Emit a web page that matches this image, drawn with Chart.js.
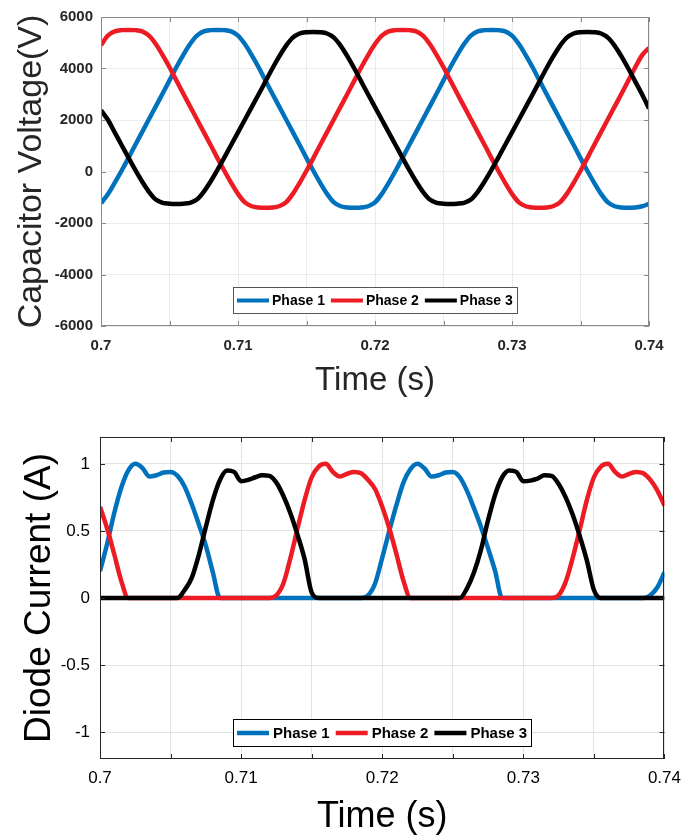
<!DOCTYPE html>
<html>
<head>
<meta charset="utf-8">
<script src="https://cdn.jsdelivr.net/npm/chart.js@4.4.1/dist/chart.umd.min.js"></script>
<style>
  html, body { margin: 0; padding: 0; background: #fff; }
  body { width: 690px; height: 836px; overflow: hidden; }
  .caixa { position: relative; width: 690px; }
  #cima { height: 410px; }
  #baixo { height: 426px; }
</style>
</head>
<body>
<div class="caixa" id="cima"><canvas id="graficoTensao"></canvas></div>
<div class="caixa" id="baixo"><canvas id="graficoCorrente"></canvas></div>
<script>
// Tempo (s) - amostras lidas a cada 0.5 ms
const tempo = [
  0.7, 0.7005, 0.701, 0.7015, 0.702, 0.7025, 0.703, 0.7035, 0.704, 0.7045,
  0.705, 0.7055, 0.706, 0.7065, 0.707, 0.7075, 0.708, 0.7085, 0.709, 0.7095,
  0.71, 0.7105, 0.711, 0.7115, 0.712, 0.7125, 0.713, 0.7135, 0.714, 0.7145,
  0.715, 0.7155, 0.716, 0.7165, 0.717, 0.7175, 0.718, 0.7185, 0.719, 0.7195,
  0.72, 0.7205, 0.721, 0.7215, 0.722, 0.7225, 0.723, 0.7235, 0.724, 0.7245,
  0.725, 0.7255, 0.726, 0.7265, 0.727, 0.7275, 0.728, 0.7285, 0.729, 0.7295,
  0.73, 0.7305, 0.731, 0.7315, 0.732, 0.7325, 0.733, 0.7335, 0.734, 0.7345,
  0.735, 0.7355, 0.736, 0.7365, 0.737, 0.7375, 0.738, 0.7385, 0.739, 0.7395,
  0.74
];

const fases = ["Phase 1", "Phase 2", "Phase 3"];
const cores = ["#0072BD", "#ED1C24", "#000000"];

// Tensao no capacitor (V)
const tensaoFase1 = [
  -1230, -880, -440, 30, 520, 1030, 1530, 2030, 2530, 3030,
  3540, 4050, 4520, 4950, 5280, 5440, 5490, 5500, 5490, 5440,
  5280, 4950, 4520, 4050, 3540, 3030, 2530, 2030, 1530, 1030,
  520, 30, -440, -870, -1200, -1350, -1400, -1410, -1400, -1350,
  -1200, -870, -440, 30, 520, 1030, 1530, 2030, 2530, 3030,
  3540, 4050, 4520, 4950, 5280, 5440, 5490, 5500, 5490, 5440,
  5280, 4950, 4520, 4050, 3540, 3030, 2530, 2030, 1530, 1030,
  520, 30, -440, -870, -1200, -1350, -1400, -1410, -1400, -1350,
  -1260
];
const tensaoFase2 = [
  4900, 5280, 5440, 5490, 5500, 5490, 5440, 5280, 4950, 4520,
  4050, 3540, 3030, 2530, 2030, 1530, 1030, 520, 30, -440,
  -870, -1200, -1350, -1400, -1410, -1400, -1350, -1200, -870, -440,
  30, 520, 1030, 1530, 2030, 2530, 3030, 3540, 4050, 4520,
  4950, 5280, 5440, 5490, 5500, 5490, 5440, 5280, 4950, 4520,
  4050, 3540, 3030, 2530, 2030, 1530, 1030, 520, 30, -440,
  -870, -1200, -1350, -1400, -1410, -1400, -1350, -1200, -870, -440,
  30, 520, 1030, 1530, 2030, 2530, 3030, 3540, 4050, 4520,
  4800
];
const tensaoFase3 = [
  2380, 2010, 1520, 1030, 540, 60, -390, -790, -1090, -1220,
  -1250, -1260, -1250, -1220, -1090, -790, -390, 60, 540, 1030,
  1520, 2010, 2500, 2990, 3490, 3990, 4460, 4880, 5200, 5360,
  5410, 5420, 5410, 5360, 5200, 4880, 4460, 3990, 3490, 2990,
  2500, 2010, 1520, 1030, 540, 60, -390, -790, -1090, -1220,
  -1250, -1260, -1250, -1220, -1090, -790, -390, 60, 540, 1030,
  1520, 2010, 2500, 2990, 3490, 3990, 4460, 4880, 5200, 5360,
  5410, 5420, 5410, 5360, 5200, 4880, 4460, 3990, 3490, 2990,
  2450
];

// Corrente nos diodos (A)
const correnteFase1 = [
  0.20, 0.40, 0.63, 0.82, 0.95, 1.00, 0.97, 0.905, 0.915, 0.935,
  0.94, 0.91, 0.83, 0.70, 0.55, 0.39, 0.19, 0, 0, 0,
  0, 0, 0, 0, 0, 0, 0, 0, 0, 0,
  0, 0, 0, 0, 0, 0, 0, 0, 0.02, 0.11,
  0.30, 0.50, 0.69, 0.86, 0.96, 1.00, 0.965, 0.905, 0.915, 0.935,
  0.94, 0.90, 0.80, 0.67, 0.53, 0.37, 0.20, 0, 0, 0,
  0, 0, 0, 0, 0, 0, 0, 0, 0, 0,
  0, 0, 0, 0, 0, 0, 0, 0, 0.02, 0.08,
  0.19
];
const correnteFase2 = [
  0.68, 0.52, 0.33, 0.13, 0, 0, 0, 0, 0, 0,
  0, 0, 0, 0, 0, 0, 0, 0, 0, 0,
  0, 0, 0, 0, 0, 0.02, 0.11, 0.30, 0.52, 0.73,
  0.90, 0.98, 1.00, 0.94, 0.905, 0.925, 0.94, 0.93, 0.88, 0.81,
  0.68, 0.52, 0.33, 0.13, 0, 0, 0, 0, 0, 0,
  0, 0, 0, 0, 0, 0, 0, 0, 0, 0,
  0, 0, 0, 0, 0, 0.02, 0.12, 0.30, 0.51, 0.73,
  0.90, 0.98, 1.00, 0.94, 0.905, 0.925, 0.94, 0.93, 0.88, 0.80,
  0.69
];
const correnteFase3 = [
  0, 0, 0, 0, 0, 0, 0, 0, 0, 0,
  0, 0, 0.06, 0.15, 0.32, 0.53, 0.73, 0.88, 0.95, 0.94,
  0.87, 0.88, 0.90, 0.915, 0.91, 0.86, 0.76, 0.63, 0.47, 0.29,
  0.04, 0, 0, 0, 0, 0, 0, 0, 0, 0,
  0, 0, 0, 0, 0, 0, 0, 0, 0, 0,
  0, 0, 0.07, 0.19, 0.36, 0.58, 0.77, 0.90, 0.95, 0.94,
  0.87, 0.875, 0.89, 0.915, 0.91, 0.85, 0.75, 0.62, 0.46, 0.28,
  0.06, 0, 0, 0, 0, 0, 0, 0, 0, 0,
  0
];

const FONTE = "'Liberation Sans', Arial, sans-serif";

// moldura com marcas para dentro (estilo MATLAB)
const moldura = {
  id: "moldura",
  afterDatasetsDraw(chart, args, opts) {
    const { ctx, chartArea: a, scales: { x, y } } = chart;
    ctx.save();
    ctx.strokeStyle = opts.cor;
    ctx.lineWidth = 1;
    ctx.beginPath();
    x.ticks.forEach(t => {
      const px = Math.round(x.getPixelForValue(t.value)) + 0.5;
      ctx.moveTo(px, a.bottom); ctx.lineTo(px, a.bottom - opts.marca);
      ctx.moveTo(px, a.top); ctx.lineTo(px, a.top + opts.marca);
    });
    y.ticks.forEach(t => {
      const py = Math.round(y.getPixelForValue(t.value)) + 0.5;
      ctx.moveTo(a.left, py); ctx.lineTo(a.left + opts.marca, py);
      ctx.moveTo(a.right, py); ctx.lineTo(a.right - opts.marca, py);
    });
    ctx.stroke();
    ctx.strokeRect(Math.round(a.left) + 0.5, Math.round(a.top) + 0.5, Math.round(a.width) - 1, Math.round(a.height) - 1);
    ctx.restore();
  }
};

// legenda em caixa dentro do grafico
const legendaCaixa = {
  id: "legendaCaixa",
  afterDatasetsDraw(chart, args, opts) {
    const { ctx, chartArea: a } = chart;
    ctx.save();
    ctx.font = opts.fonte;
    const itens = chart.data.datasets.map(d => ({ texto: d.label, cor: d.borderColor, w: ctx.measureText(d.label).width }));
    const larg = Math.round(opts.pad * 2 + itens.reduce((s, it) => s + opts.linha + opts.gapTexto + it.w, 0) + opts.gapItem * (itens.length - 1));
    const x0 = Math.round((a.left + a.right) / 2 - larg / 2);
    const y0 = Math.round(a.bottom - opts.baixo - opts.altura);
    ctx.fillStyle = "#fff";
    ctx.fillRect(x0, y0, larg, opts.altura);
    ctx.strokeStyle = opts.borda;
    ctx.lineWidth = 1;
    ctx.strokeRect(x0 + 0.5, y0 + 0.5, larg, opts.altura);
    let cx = x0 + opts.pad;
    const cy = y0 + opts.altura / 2 + 0.5;
    ctx.textBaseline = "middle";
    ctx.textAlign = "left";
    itens.forEach(it => {
      ctx.strokeStyle = it.cor;
      ctx.lineWidth = opts.espessura;
      ctx.beginPath(); ctx.moveTo(cx, cy); ctx.lineTo(cx + opts.linha, cy); ctx.stroke();
      cx += opts.linha + opts.gapTexto;
      ctx.fillStyle = "#000";
      ctx.fillText(it.texto, cx, cy + 1);
      cx += it.w + opts.gapItem;
    });
    ctx.restore();
  }
};

function montarSeries(lista) {
  return lista.map((valores, i) => ({
    label: fases[i],
    data: tempo.map((t, k) => ({ x: t, y: valores[k] })),
    borderColor: cores[i],
    backgroundColor: cores[i],
    borderWidth: 4.5,
    pointRadius: 0,
    cubicInterpolationMode: "monotone",
    order: 3 - i
  }));
}

function rotuloTempo(v) {
  return Math.round(v * 1000) % 10 === 0 ? String(+v.toFixed(2)) : "";
}

function criarGrafico(id, cfg) {
  return new Chart(document.getElementById(id), {
    type: "line",
    data: { datasets: montarSeries(cfg.series) },
    plugins: [moldura, legendaCaixa],
    options: {
      responsive: true,
      maintainAspectRatio: false,
      animation: false,
      layout: { padding: cfg.padding },
      plugins: {
        legend: { display: false },
        tooltip: { enabled: false },
        moldura: { cor: cfg.borda, marca: 5 },
        legendaCaixa: cfg.legenda
      },
      scales: {
        x: {
          type: "linear",
          min: 0.7,
          max: 0.74,
          ticks: {
            stepSize: 0.005,
            autoSkip: false,
            maxRotation: 0,
            padding: cfg.xPad,
            color: cfg.corTexto,
            font: cfg.fonteTicks,
            callback: rotuloTempo
          },
          grid: { color: cfg.corGrade, drawTicks: false },
          border: { display: false },
          title: {
            display: true,
            text: "Time (s)",
            color: cfg.corTexto,
            font: { family: FONTE, size: cfg.tamTituloX },
            padding: { top: 0, bottom: cfg.padTituloX }
          },
          afterFit: s => { s.height = cfg.alturaX; }
        },
        y: {
          min: cfg.yMin,
          max: cfg.yMax,
          ticks: {
            stepSize: cfg.yPasso,
            includeBounds: false,
            padding: cfg.yPad,
            color: cfg.corTexto,
            font: cfg.fonteTicks,
            callback: v => String(v)
          },
          grid: { color: cfg.corGrade, drawTicks: false },
          border: { display: false },
          title: {
            display: true,
            text: cfg.tituloY,
            color: cfg.corTexto,
            font: { family: FONTE, size: cfg.tamTituloY },
            padding: { top: cfg.padTituloY, bottom: 0 }
          },
          afterFit: s => { s.width = cfg.larguraY; }
        }
      }
    }
  });
}

criarGrafico("graficoTensao", {
  series: [tensaoFase1, tensaoFase2, tensaoFase3],
  padding: { top: 15, right: 41, bottom: 0, left: 0 },
  borda: "#8a8a8a",
  corGrade: "#ebebeb",
  corTexto: "#262626",
  fonteTicks: { family: FONTE, size: 15, weight: "bold" },
  xPad: 11,
  yPad: 8,
  alturaX: 84,
  larguraY: 101,
  tamTituloX: 33,
  padTituloX: 9,
  tamTituloY: 34,
  padTituloY: 11,
  tituloY: "Capacitor Voltage(V)",
  yMin: -6000,
  yMax: 6000,
  yPasso: 2000,
  legenda: { fonte: "bold 14px " + FONTE, pad: 4, linha: 32, gapTexto: 3, gapItem: 6, altura: 26, baixo: 13, borda: "#555", espessura: 4 }
});

criarGrafico("graficoCorrente", {
  series: [correnteFase1, correnteFase2, correnteFase3],
  padding: { top: 27, right: 22, bottom: 0, left: 0 },
  borda: "#262626",
  corGrade: "#e3e3e3",
  corTexto: "#000",
  fonteTicks: { family: FONTE, size: 17 },
  xPad: 9,
  yPad: 10,
  alturaX: 77,
  larguraY: 100,
  tamTituloX: 36,
  padTituloX: -3,
  tamTituloY: 37,
  padTituloY: 18,
  tituloY: "Diode Current (A)",
  yMin: -1.2,
  yMax: 1.2,
  yPasso: 0.5,
  legenda: { fonte: "bold 15px " + FONTE, pad: 4, linha: 32, gapTexto: 4, gapItem: 6, altura: 27, baixo: 13, borda: "#000", espessura: 4.5 }
});
</script>
</body>
</html>
